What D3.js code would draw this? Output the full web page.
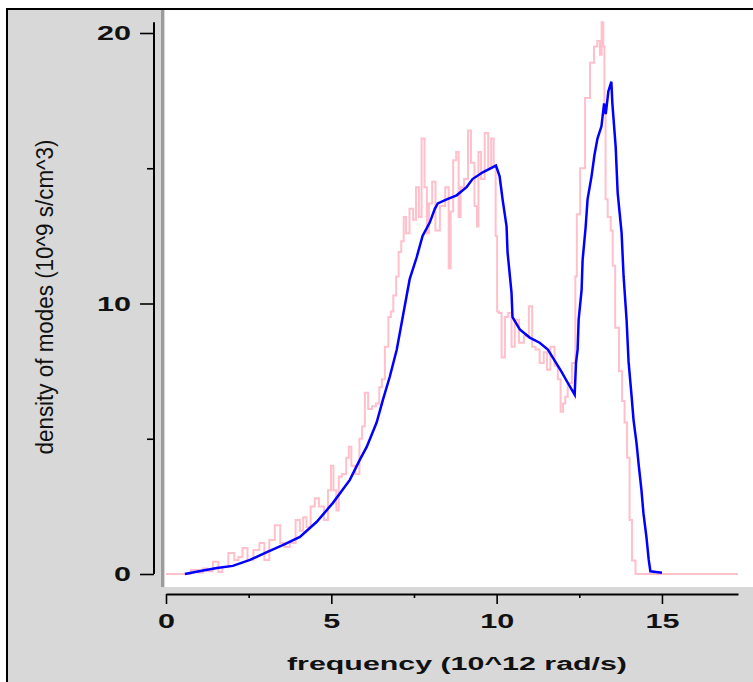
<!DOCTYPE html>
<html>
<head>
<meta charset="utf-8">
<script src="https://cdn.jsdelivr.net/npm/d3@7"></script>
<style>
  html, body { margin: 0; padding: 0; background: #ffffff; }
  svg { display: block; }
</style>
</head>
<body>
<div class="dos-plot"></div>
<script>

// frequency (10^12 rad/s) and density of modes
var noisyFreq = [0, 0.57, 0.93, 1.05, 1.18, 1.3, 1.54, 1.63, 1.78, 1.99, 2.14, 2.24, 2.39, 2.54, 2.75, 2.9,
	3.05, 3.2, 3.38, 3.53, 3.65, 3.84, 4.0, 4.1, 4.2, 4.3, 4.45, 4.55, 4.7, 4.85, 4.95, 5.03, 5.1, 5.2,
	5.25, 5.4, 5.5, 5.56, 5.65, 5.8, 5.9, 5.96, 6.07, 6.16, 6.3, 6.4, 6.5, 6.56, 6.68, 6.77, 6.83, 6.92,
	7.0, 7.07, 7.16, 7.22, 7.3, 7.43, 7.52, 7.6, 7.7, 7.76, 7.88, 7.9, 8.0, 8.1, 8.2, 8.37, 8.52, 8.58,
	8.64, 8.73, 8.82, 8.88, 8.94, 9.09, 9.18, 9.27, 9.39, 9.42, 9.48, 9.58, 9.7, 9.79, 9.88, 9.94, 10.0,
	10.03, 10.1, 10.2, 10.3, 10.4, 10.5, 10.6, 10.75, 10.9, 11.05, 11.1, 11.25, 11.35, 11.5, 11.55, 11.7,
	11.8, 11.9, 11.97, 12.05, 12.1, 12.2, 12.36, 12.4, 12.45, 12.6, 12.75, 12.9, 12.99, 13.1, 13.15, 13.2,
	13.25, 13.27, 13.32, 13.4, 13.5, 13.52, 13.65, 13.75, 13.84, 13.9, 13.99, 14.05, 14.14, 14.26, 17.3];
var noisyDos = [0, 0, 0.15, 0.05, 0.2, 0.1, 0.45, 0.07, 0.26, 0.78, 0.52, 0.63, 0.96, 0.52, 0.89, 1.15,
	0.52, 1.26, 1.8, 1.15, 1.0, 1.15, 2.0, 1.6, 2.1, 1.74, 2.5, 2.8, 2.5, 2.0, 3.1, 4.0, 3.1, 2.35,
	3.6, 3.7, 4.3, 4.7, 4.0, 3.7, 5.0, 5.45, 6.7, 6.1, 6.2, 6.3, 6.9, 7.2, 8.4, 9.5, 9.7, 10.3,
	11.0, 11.9, 12.3, 13.2, 12.6, 13.5, 13.1, 14.3, 13.2, 16.1, 14.3, 12.6, 13.7, 14.5, 12.7, 13.6, 14.3, 11.3,
	13.4, 15.3, 15.6, 13.2, 14.3, 14.6, 16.4, 15.2, 13.6, 12.85, 15.6, 14.6, 16.3, 15.0, 16.1, 15.1, 12.5,
	9.7, 9.65, 8.0, 9.5, 9.65, 8.4, 9.4, 8.55, 8.8, 9.9, 8.4, 8.3, 7.8, 8.2, 7.55, 8.4,
	7.7, 7.2, 6.0, 6.3, 6.55, 7.05, 7.8, 11.0, 13.3, 15.0, 17.6, 18.9, 19.5, 19.7, 19.2, 20.4,
	19.5, 17.0, 13.85, 13.2, 12.7, 11.4, 9.1, 7.5, 6.4, 5.6, 4.3, 2.0, 0.5, 0, 0];

var smoothFreq = [0.57, 1.0, 1.54, 2.02, 2.54, 3.05, 3.53, 4.05, 4.56, 5.05, 5.56, 5.86, 6.07, 6.37, 6.56,
	6.77, 6.98, 7.16, 7.37, 7.58, 7.76, 7.98, 8.13, 8.22, 8.49, 8.79, 9.09, 9.27, 9.58, 9.98, 10.09, 10.18,
	10.3, 10.33, 10.45, 10.48, 10.7, 11.0, 11.3, 11.55, 11.75, 11.96, 12.15, 12.36, 12.4, 12.45, 12.48,
	12.57, 12.6, 12.69, 12.75, 12.87, 12.96, 13.05, 13.17, 13.25, 13.3, 13.38, 13.47, 13.5, 13.6, 13.66,
	13.78, 13.84, 13.93, 13.99, 14.08, 14.14, 14.23, 14.3, 14.38, 14.44, 14.53, 14.6, 14.65, 15.0];
var smoothDos = [0.0, 0.1, 0.22, 0.3, 0.52, 0.81, 1.07, 1.37, 1.93, 2.63, 3.48, 4.22, 4.7, 5.6, 6.44,
	7.3, 8.3, 9.5, 10.9, 11.7, 12.5, 13.0, 13.5, 13.7, 13.85, 14.0, 14.3, 14.6, 14.85, 15.1, 14.7, 13.85,
	12.85, 11.9, 10.4, 9.5, 9.04, 8.74, 8.55, 8.3, 7.9, 7.48, 7.07, 6.63, 7.8, 8.3, 9.4,
	10.5, 11.6, 12.8, 13.85, 14.7, 15.5, 16.1, 16.55, 17.4, 17.0, 17.85, 18.2, 17.4, 15.8, 14.1,
	12.6, 11.0, 9.4, 7.85, 6.6, 5.7, 4.85, 4.0, 3.1, 2.25, 1.37, 0.52, 0.1, 0.05];

var xMajorTicks = [0, 5, 10, 15];
var xMinorTicks = [2.5, 7.5, 12.5];
var yMajorTicks = [0, 10, 20];
var yMinorTicks = [5, 15];

var xTitle = "frequency (10^12 rad/s)";
var yTitle = "density of modes (10^9 s/cm^3)";

var W = 753, H = 682;
var FONT = "'Liberation Sans', Arial, sans-serif";

var svg = d3.select(".dos-plot").append("svg")
	.attr("width", W)
	.attr("height", H);

// frame: grey panel with a black edge on top and left
svg.append("rect")
	.attr("x", 7).attr("y", 8)
	.attr("width", W - 7).attr("height", H - 8)
	.attr("fill", "#d8d8d8");
svg.append("line")
	.attr("x1", 6).attr("x2", W).attr("y1", 9).attr("y2", 9)
	.attr("stroke", "#000").attr("stroke-width", 2);
svg.append("line")
	.attr("x1", 7).attr("x2", 7).attr("y1", 8).attr("y2", H)
	.attr("stroke", "#000").attr("stroke-width", 2);

// white plot area and the grey bar left of it
svg.append("rect")
	.attr("x", 165).attr("y", 10)
	.attr("width", W - 165).attr("height", 577)
	.attr("fill", "#ffffff");
svg.append("rect")
	.attr("x", 161).attr("y", 10)
	.attr("width", 3).attr("height", 577)
	.attr("fill", "#9c9c9c");

var x = d3.scaleLinear()
	.domain([0, 17.3])
	.range([166, 738]);

var y = d3.scaleLinear()
	.domain([0, 20])
	.range([574, 33]);

// curves
var noisy = noisyFreq.map(function (f, i) { return [f, noisyDos[i]]; });
var smooth = smoothFreq.map(function (f, i) { return [f, smoothDos[i]]; });

var line = d3.line()
	.x(function (d) { return x(d[0]); })
	.y(function (d) { return y(d[1]); });

// the raw spectrum is drawn as a staircase, like the original
var stepLine = d3.line()
	.curve(d3.curveStep)
	.x(function (d) { return x(d[0]); })
	.y(function (d) { return y(d[1]); });

svg.append("path")
	.datum(noisy)
	.attr("d", stepLine)
	.attr("fill", "none")
	.attr("stroke", "#ffc0cb")
	.attr("stroke-width", 2);

svg.append("path")
	.datum(smooth)
	.attr("d", line)
	.attr("fill", "none")
	.attr("stroke", "#0000ff")
	.attr("stroke-width", 2.5);

// x axis
var xAxisY = 594;
svg.append("g")
	.attr("transform", "translate(0," + xAxisY + ")")
	.call(d3.axisBottom(x).tickValues(xMajorTicks).tickSize(10).tickSizeOuter(0).tickPadding(9));
svg.append("g")
	.attr("transform", "translate(0," + xAxisY + ")")
	.call(d3.axisBottom(x).tickValues(xMinorTicks).tickSize(4).tickFormat(""))
	.select(".domain").remove();

// y axis
var yAxisX = 154;
var yAxisG = svg.append("g")
	.attr("transform", "translate(" + yAxisX + ",0)")
	.call(d3.axisLeft(y).tickValues(yMajorTicks).tickSize(14).tickSizeOuter(0).tickPadding(9));
yAxisG.select(".domain")
	.attr("d", "M0," + y(0) + "V" + y(20.4));
svg.append("g")
	.attr("transform", "translate(" + yAxisX + ",0)")
	.call(d3.axisLeft(y).tickValues(yMinorTicks).tickSize(7).tickFormat(""))
	.select(".domain").remove();

svg.selectAll(".domain").attr("stroke", "#000").attr("stroke-width", 2);
svg.selectAll(".tick line").attr("stroke", "#000").attr("stroke-width", 1.6);

// tick labels: bold, stretched wide like the original
svg.selectAll(".tick text")
	.attr("fill", "#111")
	.style("font-family", FONT)
	.style("font-weight", "bold")
	.style("font-size", "21px")
	.each(function () {
		var t = d3.select(this);
		var n = t.text().length;
		t.attr("textLength", n === 1 ? 17 : 34).attr("lengthAdjust", "spacingAndGlyphs");
	});

// axis titles
svg.append("text")
	.attr("x", 457)
	.attr("y", 670)
	.attr("text-anchor", "middle")
	.attr("textLength", 340)
	.attr("lengthAdjust", "spacingAndGlyphs")
	.attr("fill", "#111")
	.style("font-family", FONT)
	.style("font-weight", "bold")
	.style("font-size", "18px")
	.text(xTitle);

svg.append("text")
	.attr("transform", "translate(53,297) rotate(-90)")
	.attr("text-anchor", "middle")
	.attr("textLength", 315)
	.attr("lengthAdjust", "spacingAndGlyphs")
	.attr("fill", "#111")
	.style("font-family", FONT)
	.style("font-size", "23px")
	.text(yTitle);

</script>
</body>
</html>
